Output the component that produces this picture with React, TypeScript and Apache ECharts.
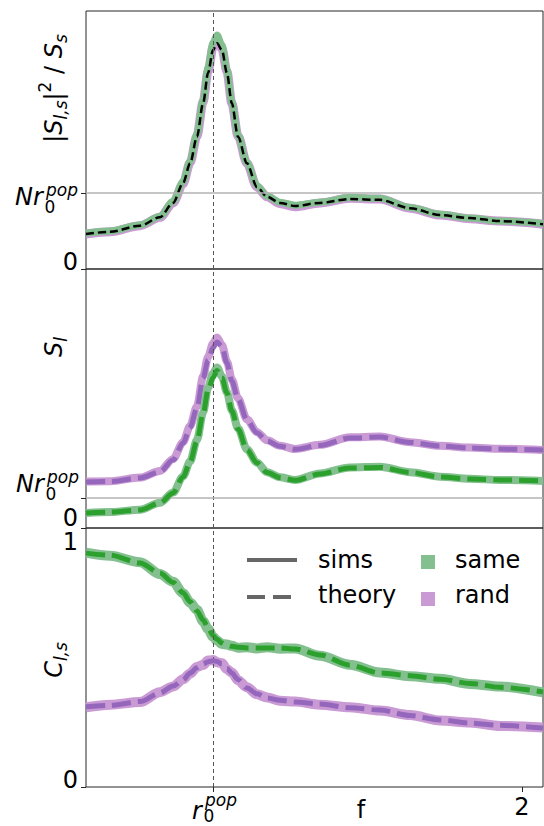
import React, { useEffect, useRef } from "react";
import * as echarts from "echarts";

// ---------- data (x in units where r0^pop = 1) ----------
const X = [0.589, 0.667, 0.764, 0.828, 0.871, 0.903, 0.926, 0.948, 0.968, 0.984, 1.0, 1.013, 1.029, 1.045, 1.061, 1.081, 1.11, 1.142, 1.175, 1.217, 1.265, 1.346, 1.443, 1.54, 1.638, 1.735, 1.832, 1.929, 2.068];

// panel 1 : |S_ls|^2 / S_s  (Nr0pop = 1)
const P1_THEORY = [0.46, 0.49, 0.57, 0.68, 0.87, 1.13, 1.39, 1.74, 2.18, 2.58, 2.88, 2.97, 2.88, 2.58, 2.18, 1.74, 1.39, 1.08, 0.95, 0.87, 0.83, 0.87, 0.92, 0.91, 0.8, 0.71, 0.67, 0.63, 0.59];
const P1_SIMS_SAME = [0.47, 0.5, 0.58, 0.69, 0.89, 1.15, 1.42, 1.78, 2.22, 2.65, 2.98, 3.08, 2.95, 2.62, 2.2, 1.76, 1.4, 1.1, 0.96, 0.88, 0.84, 0.88, 0.94, 0.93, 0.81, 0.72, 0.67, 0.63, 0.6];
const P1_SIMS_RAND = [0.46, 0.49, 0.57, 0.68, 0.87, 1.12, 1.4, 1.75, 2.2, 2.6, 2.92, 3.0, 2.9, 2.6, 2.18, 1.75, 1.39, 1.08, 0.95, 0.86, 0.82, 0.87, 0.93, 0.92, 0.8, 0.71, 0.66, 0.63, 0.59];

// panel 2 : S_l
const P2_THEORY_RAND = [1.53, 1.55, 1.67, 1.87, 2.27, 2.83, 3.35, 4.0, 5.0, 5.6, 6.0, 6.2, 6.05, 5.5, 4.9, 4.3, 3.6, 3.17, 2.9, 2.72, 2.62, 2.75, 3.0, 3.03, 2.85, 2.73, 2.67, 2.63, 2.6];
const P2_SIMS_RAND = [1.55, 1.56, 1.68, 1.9, 2.3, 2.86, 3.4, 4.05, 5.05, 5.7, 6.15, 6.35, 6.1, 5.55, 4.95, 4.32, 3.62, 3.2, 2.92, 2.74, 2.63, 2.77, 3.02, 3.05, 2.86, 2.74, 2.68, 2.64, 2.6];
const P2_THEORY_SAME = [0.5, 0.53, 0.6, 0.83, 1.17, 1.7, 2.2, 2.9, 3.8, 4.6, 5.0, 5.25, 5.0, 4.5, 3.9, 3.3, 2.6, 2.17, 1.85, 1.68, 1.59, 1.8, 2.0, 2.02, 1.85, 1.7, 1.63, 1.6, 1.57];
const P2_SIMS_SAME = [0.5, 0.53, 0.61, 0.84, 1.18, 1.72, 2.22, 2.93, 3.85, 4.68, 5.15, 5.35, 5.05, 4.52, 3.92, 3.32, 2.62, 2.18, 1.86, 1.69, 1.6, 1.82, 2.02, 2.04, 1.86, 1.71, 1.64, 1.6, 1.57];

// panel 3 : C_ls
const P3_THEORY_SAME = [0.903, 0.895, 0.865, 0.826, 0.79, 0.75, 0.715, 0.68, 0.645, 0.615, 0.585, 0.57, 0.556, 0.548, 0.543, 0.54, 0.537, 0.537, 0.537, 0.537, 0.533, 0.51, 0.47, 0.44, 0.43, 0.416, 0.4, 0.385, 0.367];
const P3_SIMS_SAME = [0.905, 0.893, 0.868, 0.822, 0.792, 0.748, 0.712, 0.684, 0.64, 0.61, 0.58, 0.566, 0.552, 0.55, 0.545, 0.538, 0.54, 0.535, 0.54, 0.534, 0.535, 0.507, 0.472, 0.442, 0.428, 0.418, 0.398, 0.388, 0.365];
const P3_THEORY_RAND = [0.31, 0.315, 0.33, 0.363, 0.39, 0.413, 0.44, 0.46, 0.475, 0.484, 0.487, 0.485, 0.475, 0.458, 0.44, 0.415, 0.382, 0.36, 0.344, 0.335, 0.328, 0.32, 0.306, 0.297, 0.276, 0.259, 0.247, 0.238, 0.228];
const P3_SIMS_RAND = [0.308, 0.318, 0.328, 0.366, 0.388, 0.416, 0.438, 0.463, 0.472, 0.488, 0.49, 0.482, 0.478, 0.455, 0.442, 0.412, 0.385, 0.358, 0.346, 0.333, 0.33, 0.318, 0.308, 0.295, 0.278, 0.257, 0.249, 0.236, 0.23];

// axis values
const X_MIN = 0.589;
const X_MAX = 2.068;
const X_TICKS = [1, 2];
const Y_MAX = [3.395, 8.63, 1];
const Y_TICKS = [0, 1];
const REF_X = 1; // r0^pop
const REF_Y = 1; // N r0^pop

// ---------- styling ----------
const GREEN = "#2ca02c";
const PURPLE = "#9467bd";
const GREEN_L = "#84c08f";
const PURPLE_L = "#c99ad3";
const SPINE = "#262626";
const FONT = "DejaVu Sans";

const ctx = typeof document !== "undefined" ? document.createElement("canvas").getContext("2d") : null;
function measure(t: string, size: number, italic: boolean) {
  if (!ctx) return t.length * size * 0.6;
  ctx.font = `${italic ? "italic " : ""}${size}px "${FONT}"`;
  return ctx.measureText(t).width;
}

function T(text: string, x: number, baseline: number, size: number, italic = false, align = "left") {
  return {
    type: "text",
    x,
    y: baseline - 0.346 * size,
    silent: true,
    style: {
      text,
      fontSize: size,
      lineHeight: Math.round(size * 0.8),
      fontFamily: FONT,
      fontStyle: italic ? "italic" : "normal",
      fill: "#000",
      align,
      verticalAlign: "middle",
    },
  };
}

type Part = { t: string; s: number; i?: boolean; dy?: number };
function vlabel(parts: Part[], cx: number, cy: number) {
  const widths = parts.map((p) => measure(p.t, p.s, !!p.i));
  const total = widths.reduce((a, b) => a + b, 0);
  let pos = 0;
  const children = parts.map((p, k) => {
    const el = {
      type: "text",
      x: pos,
      y: p.dy || 0,
      silent: true,
      style: {
        text: p.t,
        fontSize: p.s,
        lineHeight: Math.round(p.s * 0.8),
        fontFamily: FONT,
        fontStyle: p.i ? "italic" : "normal",
        fill: "#000",
        align: "left",
        verticalAlign: "middle",
      },
    };
    pos += widths[k];
    return el;
  });
  return { type: "group", x: cx, y: cy + total / 2, rotation: Math.PI / 2, children };
}

function nrLabel(left: number, baseline: number) {
  return [
    T("Nr", left, baseline, 24, true),
    T("0", left + 29.5, baseline + 8, 17, false),
    T("pop", left + 31, baseline - 9, 17, true),
  ];
}

function lineSeries(panel: number, vals: number[], color: string, width: number, dash: any, z: number) {
  return {
    type: "line",
    xAxisIndex: panel,
    yAxisIndex: panel,
    data: X.map((x, k) => [x, vals[k]]),
    showSymbol: false,
    symbol: "none",
    smooth: 0.3,
    smoothMonotone: "x",
    silent: true,
    z,
    lineStyle: { color, width, type: dash, cap: "butt", join: "round" },
  };
}

function refSeries(panel: number) {
  const lines: any[] = [{ xAxis: REF_X, lineStyle: { color: "#555", type: [4, 3], width: 1 } }];
  if (panel < 2) lines.push({ yAxis: REF_Y, lineStyle: { color: "#b3b3b3", type: "solid", width: 1.5 } });
  return {
    type: "line",
    xAxisIndex: panel,
    yAxisIndex: panel,
    data: [[X_MIN, 0]],
    showSymbol: false,
    symbol: "none",
    lineStyle: { opacity: 0 },
    silent: true,
    z: 1,
    markLine: { symbol: ["none", "none"], silent: true, label: { show: false }, animation: false, data: lines },
  };
}

function buildOption() {
  const grids = [
    { left: 86, top: 11, width: 457, height: 258 },
    { left: 86, top: 269, width: 457, height: 259 },
    { left: 86, top: 528, width: 457, height: 259 },
  ].map((g) => ({ ...g, show: true, borderColor: SPINE, borderWidth: 1, backgroundColor: "transparent" }));

  const xAxis = [0, 1, 2].map((i) => ({
    gridIndex: i,
    type: "value",
    min: X_MIN,
    max: X_MAX,
    axisLine: { show: false },
    splitLine: { show: false },
    axisLabel: { show: false },
    axisTick: i === 2 ? { show: true, customValues: X_TICKS, length: 5, lineStyle: { color: SPINE, width: 1 } } : { show: false },
  }));
  const yAxis = [0, 1, 2].map((i) => ({
    gridIndex: i,
    type: "value",
    min: 0,
    max: Y_MAX[i],
    axisLine: { show: false },
    splitLine: { show: false },
    axisLabel: { show: false },
    axisTick: { show: true, customValues: Y_TICKS, length: 5, lineStyle: { color: SPINE, width: 1 } },
  }));

  const series = [
    refSeries(0),
    lineSeries(0, P1_SIMS_RAND, PURPLE_L, 9, "solid", 2),
    lineSeries(0, P1_SIMS_SAME, GREEN_L, 7, "solid", 3),
    lineSeries(0, P1_THEORY, "#000", 2.5, [8, 4], 4),
    refSeries(1),
    lineSeries(1, P2_SIMS_RAND, PURPLE_L, 8, "solid", 2),
    lineSeries(1, P2_THEORY_RAND, PURPLE, 5, [19, 7], 3),
    lineSeries(1, P2_SIMS_SAME, GREEN_L, 8, "solid", 4),
    lineSeries(1, P2_THEORY_SAME, GREEN, 5, [19, 7], 5),
    refSeries(2),
    lineSeries(2, P3_SIMS_SAME, GREEN_L, 10, "solid", 2),
    lineSeries(2, P3_THEORY_SAME, GREEN, 5, [19, 7], 3),
    lineSeries(2, P3_SIMS_RAND, PURPLE_L, 10, "solid", 4),
    lineSeries(2, P3_THEORY_RAND, PURPLE, 5, [19, 7], 5),
  ];

  const graphic: any[] = [
    // y tick labels
    T("0", 78, 270, 24, false, "right"),
    ...nrLabel(15, 205),
    T("0", 78, 526, 24, false, "right"),
    ...nrLabel(16, 492),
    T("1", 78, 550, 24, false, "right"),
    T("0", 78, 788, 24, false, "right"),
    // x tick labels
    T("r", 192, 819, 24, true),
    T("0", 203.5, 822, 17, false),
    T("pop", 205, 806, 17, true),
    T("2", 522, 815, 24, false, "center"),
    T("f", 361, 818, 24, false, "center"),
    // y axis titles
    vlabel(
      [
        { t: "|", s: 24 },
        { t: "S", s: 24, i: true },
        { t: "l,s", s: 17, i: true, dy: 7 },
        { t: "|", s: 24 },
        { t: "2", s: 17, dy: -9 },
        { t: " / ", s: 24 },
        { t: "S", s: 24, i: true },
        { t: "s", s: 17, i: true, dy: 7 },
      ],
      54,
      88.5
    ),
    vlabel(
      [
        { t: "S", s: 24, i: true },
        { t: "l", s: 17, i: true, dy: 7 },
      ],
      54,
      347
    ),
    vlabel(
      [
        { t: "C", s: 24, i: true },
        { t: "l,s", s: 17, i: true, dy: 7 },
      ],
      54,
      660
    ),
    // legend
    { type: "line", silent: true, shape: { x1: 247, y1: 560, x2: 297, y2: 560 }, style: { stroke: "#666", lineWidth: 4 } },
    { type: "line", silent: true, shape: { x1: 247, y1: 597, x2: 292, y2: 597 }, style: { stroke: "#666", lineWidth: 4, lineDash: [18, 8] } },
    { type: "rect", silent: true, shape: { x: 421, y: 555, width: 14, height: 14 }, style: { fill: GREEN_L } },
    { type: "rect", silent: true, shape: { x: 421, y: 592, width: 14, height: 14 }, style: { fill: PURPLE_L } },
    T("sims", 318, 568, 24),
    T("theory", 318, 603, 24),
    T("same", 455, 568, 24),
    T("rand", 455, 603, 24),
  ];

  return {
    animation: false,
    backgroundColor: "#fff",
    grid: grids,
    xAxis,
    yAxis,
    series,
    graphic,
  };
}

export default function App() {
  const ref = useRef<HTMLDivElement>(null);
  useEffect(() => {
    const chart = echarts.init(ref.current!, null, { renderer: "svg", width: 544, height: 826 });
    chart.setOption(buildOption() as any);
    return () => chart.dispose();
  }, []);
  return <div ref={ref} style={{ position: "absolute", left: 0, top: 0, width: 544, height: 826 }} />;
}
